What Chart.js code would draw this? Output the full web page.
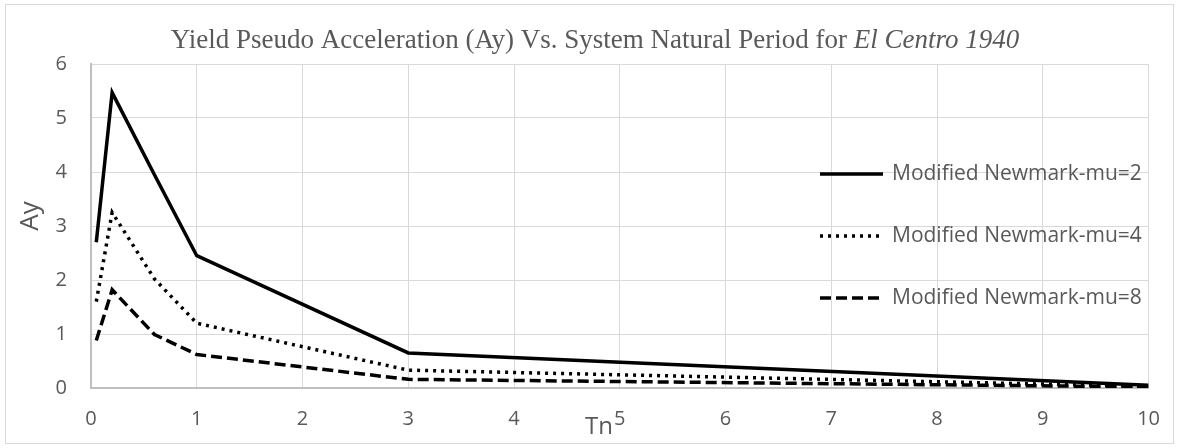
<!DOCTYPE html>
<html>
<head>
<meta charset="utf-8">
<script src="https://cdn.jsdelivr.net/npm/chart.js@4.4.1/dist/chart.umd.min.js"></script>
<style>
  html, body { margin: 0; background: #fff; }
  #wrap { width: 1179px; height: 448px; position: relative; }
</style>
</head>
<body>
<div id="wrap"><canvas id="ayChart"></canvas></div>
<script>
/* ── data ── */
const periods = [0.05, 0.2, 0.6, 1, 3, 10];
const ayMu2 = [2.7, 5.47, 3.95, 2.45, 0.65, 0.05];
const ayMu4 = [1.6, 3.25, 2.02, 1.2, 0.33, 0.03];
const ayMu8 = [0.88, 1.82, 0.99, 0.62, 0.16, 0.02];
const seriesNames = ['Modified Newmark-mu=2', 'Modified Newmark-mu=4', 'Modified Newmark-mu=8'];
const titleMain = 'Yield Pseudo Acceleration (Ay) Vs. System Natural Period for ';
const titleItalic = 'El Centro 1940';
const xLabel = 'Tn';
const yLabel = 'Ay';

const TEXT = '#595959';
const SANS = '"Open Sans", Lato, sans-serif';

const toPoints = vals => periods.map((t, i) => ({ x: t, y: vals[i] }));

const lineStyles = [
  { borderDash: [] },
  { borderDash: [3, 5] },
  { borderDash: [11, 5] }
];

/* ══════════════════════════════
   TITLE, AXIS TITLES, LEGEND
══════════════════════════════ */
const decor = {
  id: 'decor',
  beforeDraw(chart) {
    const ctx = chart.ctx;
    ctx.save();
    ctx.strokeStyle = '#d9d9d9';
    ctx.lineWidth = 1;
    ctx.strokeRect(5.5, 4.5, 1168, 439);
    ctx.restore();
  },
  afterDraw(chart) {
    const ctx = chart.ctx;
    ctx.save();
    ctx.fillStyle = TEXT;
    ctx.textBaseline = 'alphabetic';

    // title with italic tail
    const fMain = '27px "Liberation Serif", "Times New Roman", serif';
    const fIt = 'italic 27px "Liberation Serif", "Times New Roman", serif';
    ctx.font = fMain;
    const w1 = ctx.measureText(titleMain).width;
    ctx.font = fIt;
    const w2 = ctx.measureText(titleItalic).width;
    const x0 = 595 - (w1 + w2) / 2;
    ctx.textAlign = 'left';
    ctx.font = fMain;
    ctx.fillText(titleMain, x0, 48);
    ctx.font = fIt;
    ctx.fillText(titleItalic, x0 + w1, 48);

    // axis titles
    ctx.font = '24px ' + SANS;
    ctx.textAlign = 'center';
    ctx.textBaseline = 'middle';
    ctx.fillText(xLabel, 599, 427);
    ctx.save();
    ctx.translate(31, 216);
    ctx.rotate(-Math.PI / 2);
    ctx.font = '26px ' + SANS;
    ctx.fillText(yLabel, 0, 0);
    ctx.restore();

    // legend
    const rows = [174, 236, 298];
    ctx.font = '21px ' + SANS;
    ctx.textAlign = 'left';
    chart.data.datasets.forEach((ds, i) => {
      const y = rows[i];
      ctx.save();
      ctx.strokeStyle = '#000';
      ctx.lineWidth = 3.5;
      ctx.setLineDash(ds.borderDash || []);
      ctx.beginPath();
      ctx.moveTo(820, y);
      ctx.lineTo(883, y);
      ctx.stroke();
      ctx.restore();
      ctx.fillStyle = TEXT;
      ctx.fillText(ds.label, 892, y);
    });
    ctx.restore();
  }
};

/* ══════════════════════════════
   CHART
══════════════════════════════ */
const ctx = document.getElementById('ayChart').getContext('2d');

new Chart(ctx, {
  type: 'line',
  data: {
    datasets: [ayMu2, ayMu4, ayMu8].map((vals, i) => ({
      label: seriesNames[i],
      data: toPoints(vals),
      borderColor: '#000',
      borderWidth: 3.5,
      borderDash: lineStyles[i].borderDash,
      pointRadius: 0,
      tension: 0,
      fill: false
    }))
  },
  options: {
    responsive: true,
    maintainAspectRatio: false,
    animation: false,
    layout: { padding: { left: 0, top: 64, right: 26, bottom: 0 } },
    plugins: {
      legend: { display: false },
      title: { display: false },
      tooltip: { enabled: false }
    },
    scales: {
      x: {
        type: 'linear',
        min: 0,
        max: 10,
        afterFit: s => { s.height = 60; },
        grid: { color: '#d9d9d9', drawTicks: false },
        border: { color: '#bfbfbf', width: 2 },
        ticks: { stepSize: 1, padding: 19, color: TEXT, font: { family: SANS, size: 20 } }
      },
      y: {
        min: 0,
        max: 6,
        afterFit: s => { s.width = 91; },
        grid: { color: '#d9d9d9', drawTicks: false },
        border: { color: '#bfbfbf', width: 2 },
        ticks: { stepSize: 1, padding: 24, color: TEXT, font: { family: SANS, size: 20 } }
      }
    }
  },
  plugins: [decor]
});
</script>
</body>
</html>
